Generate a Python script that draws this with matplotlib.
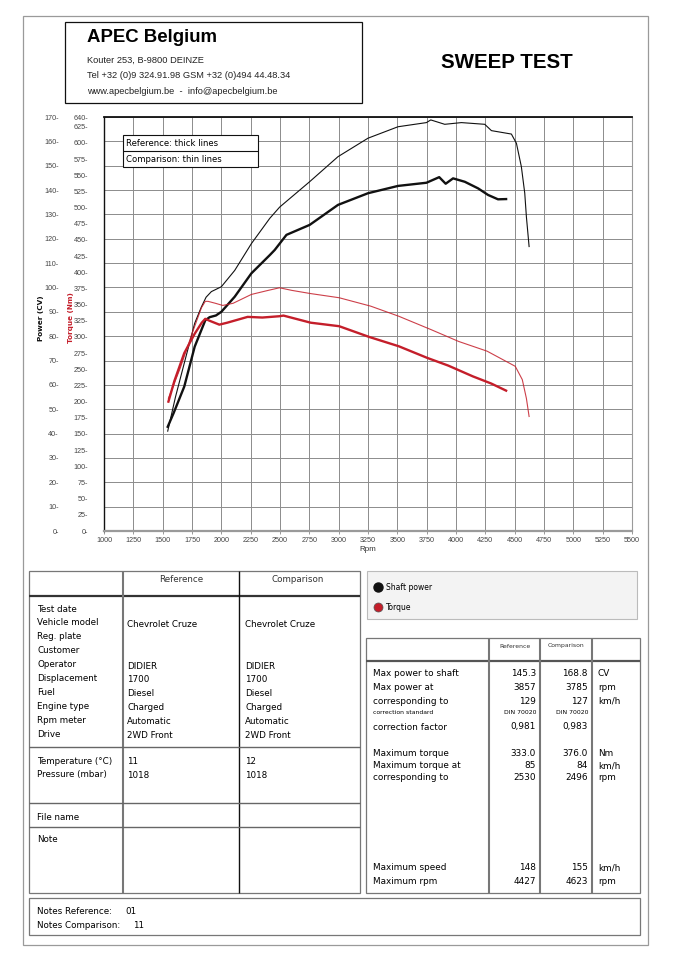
import matplotlib.pyplot as plt
from matplotlib.patches import Rectangle
from matplotlib.ticker import FuncFormatter

# ---- curves ----
# reference = thick lines, comparison = thin lines
ref_power_rpm = [1543, 1594, 1684, 1773, 1863, 1900, 1954, 2000, 2114, 2256, 2413, 2455, 2555,
                 2753, 2994, 3250, 3506, 3748, 3857, 3912, 3975, 4075, 4188, 4273, 4358, 4427]
ref_power_cv = [42.8, 48.5, 59.3, 75.7, 86.5, 87.8, 88.5, 90.0, 96.2, 105.8, 113.3, 115.4, 121.6,
                125.7, 133.9, 138.7, 141.7, 143.0, 145.3, 142.6, 144.8, 143.4, 140.7, 138.0, 136.2, 136.3]

cmp_power_rpm = [1543, 1609, 1684, 1773, 1830, 1870, 1915, 2000, 2114, 2256, 2413, 2497, 2752,
                 2994, 3250, 3506, 3748, 3785, 3904, 4046, 4245, 4302, 4472, 4515, 4557, 4586,
                 4600, 4623]
cmp_power_cv = [41.0, 55.0, 68.9, 85.3, 92.0, 96.0, 98.3, 100.3, 107.0, 118.0, 128.4, 133.0, 143.4,
                153.7, 161.3, 166.0, 167.7, 168.8, 167.0, 167.7, 167.0, 164.4, 163.0, 159.2, 149.6,
                138.7, 129.0, 116.8]

ref_torque_rpm = [1549, 1600, 1684, 1773, 1833, 1863, 1900, 1983, 2050, 2224, 2350, 2494, 2530,
                  2762, 3004, 3260, 3512, 3755, 3934, 4144, 4300, 4427]
ref_torque_nm = [200, 232, 275, 305, 322, 328, 325, 319, 322, 331, 330, 332, 333,
                 322, 316.6, 300, 285.6, 267.6, 255.7, 239, 228, 217]

cmp_torque_rpm = [1549, 1650, 1750, 1830, 1863, 1887, 1950, 2012, 2100, 2256, 2400, 2496, 2600,
                  2762, 3004, 3273, 3512, 3785, 4023, 4265, 4505, 4565, 4600, 4623]
cmp_torque_nm = [205, 252, 305, 345, 355, 355, 352, 348.7, 352, 365.7, 372, 376, 372,
                 367, 360.6, 347.6, 332, 311.5, 293, 278, 254.6, 234, 205, 177]

rpm_ticks = list(range(1000, 5501, 250))
power_ticks = list(range(0, 171, 10))
torque_ticks = list(range(0, 626, 25)) + [640]

# ---- sheet text ----
company = "APEC Belgium"
address = ["Kouter 253, B-9800 DEINZE",
           "Tel +32 (0)9 324.91.98 GSM +32 (0)494 44.48.34",
           "www.apecbelgium.be  -  info@apecbelgium.be"]
title = "SWEEP TEST"

info_labels = ["Test date", "Vehicle model", "Reg. plate", "Customer", "Operator",
               "Displacement", "Fuel", "Engine type", "Rpm meter", "Drive"]
info_ref = ["", "Chevrolet Cruze", "", "", "DIDIER", "1700", "Diesel", "Charged", "Automatic", "2WD Front"]
info_cmp = ["", "Chevrolet Cruze", "", "", "DIDIER", "1700", "Diesel", "Charged", "Automatic", "2WD Front"]
env_labels = ["Temperature (°C)", "Pressure (mbar)"]
env_ref = ["11", "1018"]
env_cmp = ["12", "1018"]

res_labels = ["Max power to shaft", "Max power at", "corresponding to", "correction standard",
              "correction factor", "Maximum torque", "Maximum torque at", "corresponding to",
              "Maximum speed", "Maximum rpm"]
res_ref = ["145.3", "3857", "129", "DIN 70020", "0,981", "333.0", "85", "2530", "148", "4427"]
res_cmp = ["168.8", "3785", "127", "DIN 70020", "0,983", "376.0", "84", "2496", "155", "4623"]
res_units = ["CV", "rpm", "km/h", "", "", "Nm", "km/h", "rpm", "km/h", "rpm"]

notes_ref = "01"
notes_cmp = "11"

plt.rcParams['font.family'] = 'DejaVu Sans'
BLACK = "#111111"
RED = "#c41e2a"

W, H = 679, 960
fig = plt.figure(figsize=(W / 100, H / 100), dpi=100)

# page overlay in pixel coordinates
ov = fig.add_axes([0, 0, 1, 1], zorder=3)
ov.set_xlim(0, W)
ov.set_ylim(H, 0)
ov.axis('off')
ov.patch.set_visible(False)


def box(x0, y0, x1, y1, **kw):
    kw.setdefault('fill', False)
    kw.setdefault('ec', BLACK)
    kw.setdefault('lw', 0.8)
    ov.add_patch(Rectangle((x0, y0), x1 - x0, y1 - y0, **kw))


def hline(y, x0, x1, **kw):
    ov.plot([x0, x1], [y, y], solid_capstyle='butt', **kw)


def vline(x, y0, y1, **kw):
    ov.plot([x, x], [y0, y1], solid_capstyle='butt', **kw)


def txt(x, y, s, size=6.4, **kw):
    kw.setdefault('va', 'center')
    ov.text(x, y, s, fontsize=size, **kw)


# page frame
box(23, 16, 648, 945, ec='#9a9a9a', lw=0.9)

# header
box(65, 22, 362, 103, lw=0.9)
txt(87, 38, company, 13.4, fontweight='bold', family='Liberation Sans')
for i, line in enumerate(address):
    txt(87, 60 + i * 15.5, line, 6.7, family='Liberation Sans', color='#222222')
txt(507, 62, title, 14.8, fontweight='bold', family='Liberation Sans', ha='center')

# ---- main chart ----
ax = fig.add_axes([104 / W, 1 - 531 / H, 528 / W, 414 / H], zorder=1)
ax.plot(cmp_power_rpm, cmp_power_cv, color=BLACK, lw=0.8, zorder=4)
ax.plot(ref_power_rpm, ref_power_cv, color=BLACK, lw=1.7, zorder=5)

ax.set_xlim(1000, 5500)
ax.set_ylim(0, 170)
ax.set_xticks(rpm_ticks)
ax.set_yticks(power_ticks)
ax.grid(True, color='#8c8c8c', lw=0.7)
ax.set_axisbelow(True)
ax.yaxis.set_major_formatter(FuncFormatter(lambda v, p: f"{int(v)}-"))
ax.tick_params(axis='y', length=0, pad=32.5, labelsize=5.2, labelcolor='#444444')
ax.tick_params(axis='x', length=2.5, width=0.6, color='#888888', pad=1.5,
               labelsize=5.2, labelcolor='#444444')
for lab in ax.get_xticklabels() + ax.get_yticklabels():
    lab.set_family('Liberation Sans')
ax.set_xlabel("Rpm", fontsize=5.8, labelpad=1.5, family='Liberation Sans', color='#333333')
ax.set_ylabel("Power (CV)", fontsize=5.2, fontweight='bold', color=BLACK)
ax.yaxis.set_label_coords(-0.113, 0.515)

ax.spines['top'].set_color(BLACK)
ax.spines['top'].set_linewidth(1.3)
ax.spines['left'].set_color(BLACK)
ax.spines['left'].set_linewidth(1.0)
ax.spines['bottom'].set_color('#9a9a9a')
ax.spines['bottom'].set_linewidth(1.6)
ax.spines['right'].set_color('#9a9a9a')
ax.spines['right'].set_linewidth(0.8)

ax2 = ax.twinx()
ax2.plot(cmp_torque_rpm, cmp_torque_nm, color=RED, lw=0.8, alpha=0.85, zorder=4)
ax2.plot(ref_torque_rpm, ref_torque_nm, color=RED, lw=1.7, zorder=5)
ax2.set_ylim(0, 640)
ax2.set_yticks(torque_ticks)
ax2.yaxis.tick_left()
ax2.yaxis.set_label_position('left')
ax2.yaxis.set_major_formatter(FuncFormatter(lambda v, p: f"{int(v)}-"))
ax2.tick_params(axis='y', length=0, pad=11.5, labelsize=5.2, labelcolor='#444444')
for lab in ax2.get_yticklabels():
    lab.set_family('Liberation Sans')
ax2.set_ylabel("Torque (Nm)", fontsize=5.2, fontweight='bold', color=RED)
ax2.yaxis.set_label_coords(-0.056, 0.515)
for sp in ax2.spines.values():
    sp.set_visible(False)

# thick / thin key inside the chart
box(123, 135, 258, 167, fc='white', fill=True, lw=0.8, zorder=5)
hline(151, 123, 258, color=BLACK, lw=0.8, zorder=6)
txt(126, 143, "Reference: thick lines", 6.1, zorder=7)
txt(126, 159, "Comparison: thin lines", 6.1, zorder=7)

# ---- vehicle info table ----
box(29, 571, 360, 893, ec='#777777', lw=0.9)
hline(596, 29, 360, color='#333333', lw=1.6)
vline(123, 571, 893, color='#777777', lw=1.5)
vline(239, 571, 893, color=BLACK, lw=1.0)
for y in (747, 803, 827):
    hline(y, 29, 360, color='#666666', lw=1.0)
txt(181, 580, "Reference", 6.3, ha='center', color='#333333')
txt(298, 580, "Comparison", 6.3, ha='center', color='#333333')
for i, lab in enumerate(info_labels):
    y = 609 + i * 13.9
    txt(37, y, lab, 6.3)
    txt(127, y + 1.5, info_ref[i], 6.3)
    txt(245, y + 1.5, info_cmp[i], 6.3)
for i, lab in enumerate(env_labels):
    y = 761 + i * 14
    txt(37, y, lab, 6.3)
    txt(127, y, env_ref[i], 6.3)
    txt(245, y, env_cmp[i], 6.3)
txt(37, 817, "File name", 6.3)
txt(37, 840, "Note", 6.3)

# ---- colour key ----
box(367, 571, 637, 619, ec='#bbbbbb', lw=0.8, fc='#f3f3f3', fill=True)
ov.plot([378], [587], marker='o', ms=6.5, color=BLACK, ls='none')
ov.plot([378], [607], marker='o', ms=6.5, color=RED, mec='#555555', mew=0.5, ls='none')
txt(386, 587, "Shaft power", 5.5)
txt(386, 607, "Torque", 5.5)

# ---- results table ----
box(366, 638, 640, 893, ec='#777777', lw=0.9)
hline(661, 366, 640, color='#555555', lw=1.6)
for x in (489, 540, 592):
    vline(x, 638, 893, color='#777777', lw=1.5)
txt(515, 646, "Reference", 4.4, ha='center', color='#333333')
txt(566, 646, "Comparison", 4.4, ha='center', color='#333333')
res_y = [674, 687, 701, 713, 727, 753, 766, 778, 868, 881]
for i, lab in enumerate(res_labels):
    y = res_y[i]
    small = lab == "correction standard"
    size = 4.4 if small else 6.4
    txt(373, y, lab, size)
    txt(536, y, res_ref[i], size, ha='right')
    txt(588, y, res_cmp[i], size, ha='right')
    txt(598, y, res_units[i], 6.4)

# ---- notes ----
box(29, 898, 640, 935, ec='#777777', lw=0.9)
txt(37, 911, "Notes Reference:", 6.3)
txt(125, 911, notes_ref, 6.3)
txt(37, 925, "Notes Comparison:", 6.3)
txt(133, 925, notes_cmp, 6.3)

fig.savefig("out.png", dpi=100)
